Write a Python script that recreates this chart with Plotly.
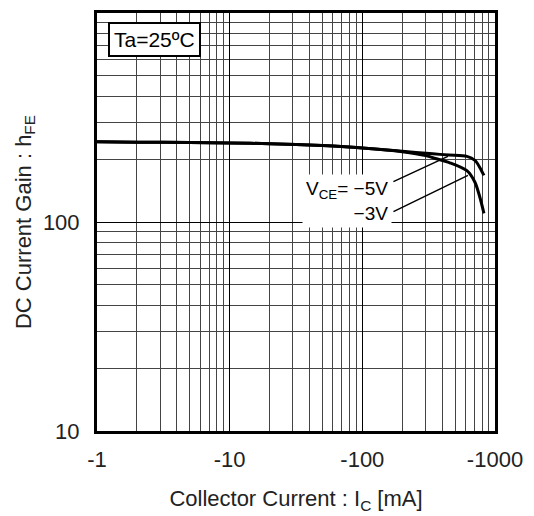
import plotly.graph_objects as go

# Data
ic_5v = [1, 2, 5, 10, 20, 50, 100, 200, 340, 450, 614, 706, 770, 825]
hfe_5v = [242, 241, 240, 239, 237, 232, 226, 218, 212, 209, 206, 197, 182, 167]
ic_3v = [1, 2, 5, 10, 20, 50, 100, 200, 300, 340, 457, 614, 706, 770, 825]
hfe_3v = [242, 241, 240, 239, 237, 232, 226, 217, 208, 203, 192, 176, 155, 131, 110]

x_tickvals = [1, 10, 100, 1000]
x_ticktext = ["-1", "-10", "-100", "-1000"]
y_tickvals = [10, 100]
y_ticktext = ["10", "100"]

FONT = "Liberation Sans, Arial, sans-serif"

fig = go.Figure()
for xs, ys in [(ic_5v, hfe_5v), (ic_3v, hfe_3v)]:
    fig.add_trace(go.Scatter(x=xs, y=ys, mode="lines",
                             line=dict(color="black", width=3, shape="spline", smoothing=0.8),
                             showlegend=False, hoverinfo="skip"))

axis_common = dict(
    type="log",
    showline=True, linecolor="black", linewidth=3, mirror=True,
    showgrid=True, gridcolor="#000", gridwidth=1,
    ticks="", zeroline=False,
    tickfont=dict(family=FONT, size=22, color="#222"),
    minor=dict(dtick="D1", showgrid=True, gridcolor="#444", gridwidth=1, ticks=""),
)

fig.update_xaxes(**axis_common, range=[0, 3], tickvals=x_tickvals, ticktext=x_ticktext,
                 ticklabelstandoff=7,
                 title=dict(text="Collector Current : I<sub>C</sub> [mA]",
                            font=dict(family=FONT, size=22, color="#222"), standoff=22))
fig.update_yaxes(**axis_common, range=[1, 3], tickvals=y_tickvals, ticktext=y_ticktext,
                 ticklabelstandoff=10,
                 title=dict(text="DC Current Gain : h<sub>FE</sub>",
                            font=dict(family=FONT, size=22, color="#222"), standoff=6))

# Ta box
fig.add_annotation(xref="paper", yref="paper", x=0.028, y=0.979, xanchor="left", yanchor="top",
                   text="Ta=25ºC", showarrow=False,
                   font=dict(family=FONT, size=21, color="black"),
                   bgcolor="white", bordercolor="black", borderwidth=2, borderpad=4)

# VCE label
fig.add_annotation(xref="x", yref="y", x=2.225, y=2.10, xanchor="right", yanchor="middle",
                   text="V<sub>CE</sub>= −5V<br>−3V", align="right", showarrow=False,
                   font=dict(family=FONT, size=19, color="black"),
                   bgcolor="white", borderpad=3)

# leader lines
fig.add_annotation(x=2.645, y=2.314, xref="x", yref="y", ax=-56, ay=26, text="",
                   showarrow=True, arrowhead=0, arrowwidth=1.5, arrowcolor="black")
fig.add_annotation(x=2.796, y=2.223, xref="x", yref="y", ax=-76, ay=37, text="",
                   showarrow=True, arrowhead=0, arrowwidth=1.5, arrowcolor="black")

fig.update_layout(
    width=518, height=506,
    margin=dict(l=89, r=31, t=2, b=83),
    plot_bgcolor="white", paper_bgcolor="white",
)

fig.write_html("out.html")
